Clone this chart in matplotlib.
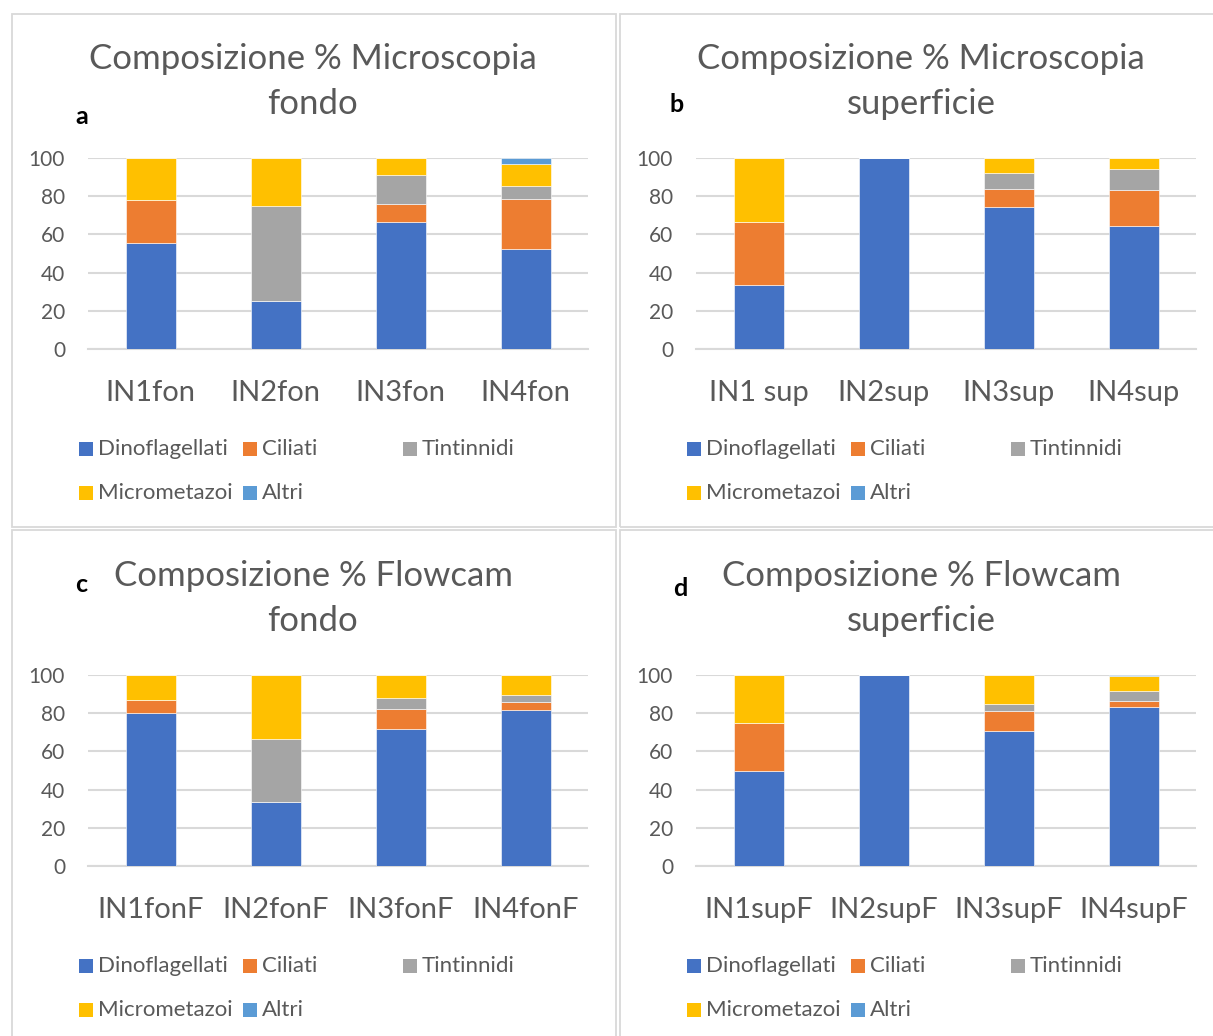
import matplotlib.pyplot as plt
from matplotlib.patches import Rectangle

plt.rcParams['font.family'] = ['Lato', 'DejaVu Sans']

W, H = 1213, 1036

series = ["Dinoflagellati", "Ciliati", "Tintinnidi", "Micrometazoi", "Altri"]
colors = ["#4472C4", "#ED7D31", "#A5A5A5", "#FFC000", "#5B9BD5"]

# a: microscopia, fondo
cats_a = ["IN1fon", "IN2fon", "IN3fon", "IN4fon"]
dino_a = [55.6, 25.0, 66.7, 52.3]
cil_a = [22.2, 0.0, 9.1, 26.0]
tint_a = [0.0, 50.0, 15.2, 7.0]
micro_a = [22.2, 25.0, 9.1, 11.7]
altri_a = [0.0, 0.0, 0.0, 3.0]

# b: microscopia, superficie
cats_b = ["IN1 sup", "IN2sup", "IN3sup", "IN4sup"]
dino_b = [33.3, 100.0, 74.1, 64.2]
cil_b = [33.3, 0.0, 9.6, 18.8]
tint_b = [0.0, 0.0, 8.3, 11.4]
micro_b = [33.4, 0.0, 8.0, 5.6]
altri_b = [0.0, 0.0, 0.0, 0.0]

# c: flowcam, fondo
cats_c = ["IN1fonF", "IN2fonF", "IN3fonF", "IN4fonF"]
dino_c = [80.0, 33.3, 71.6, 81.8]
cil_c = [6.7, 0.0, 10.5, 4.0]
tint_c = [0.0, 33.3, 6.1, 3.5]
micro_c = [13.3, 33.4, 11.8, 10.7]
altri_c = [0.0, 0.0, 0.0, 0.0]

# d: flowcam, superficie
cats_d = ["IN1supF", "IN2supF", "IN3supF", "IN4supF"]
dino_d = [50.0, 100.0, 70.5, 83.2]
cil_d = [25.0, 0.0, 10.6, 3.1]
tint_d = [0.0, 0.0, 3.6, 5.5]
micro_d = [25.0, 0.0, 15.3, 7.7]
altri_d = [0.0, 0.0, 0.0, 0.5]

panels = [
    ("a", "Composizione % Microscopia", "fondo", cats_a,
     [dino_a, cil_a, tint_a, micro_a, altri_a], 0, 0, (82, 116)),
    ("b", "Composizione % Microscopia", "superficie", cats_b,
     [dino_b, cil_b, tint_b, micro_b, altri_b], 608, 0, (677, 104)),
    ("c", "Composizione % Flowcam", "fondo", cats_c,
     [dino_c, cil_c, tint_c, micro_c, altri_c], 0, 517, (81, 584)),
    ("d", "Composizione % Flowcam", "superficie", cats_d,
     [dino_d, cil_d, tint_d, micro_d, altri_d], 608, 517, (680, 589)),
]

GRAY = "#595959"
GRID = "#D9D9D9"


def fx(x):
    return x / W


def fy(y):
    return 1 - y / H


fig = plt.figure(figsize=(W / 100, H / 100), dpi=100)

# chart frames
for x0, y0, x1, y1 in [(12, 14, 616, 527), (620, 14, 1260, 527),
                       (12, 530, 616, 1080), (620, 530, 1260, 1080)]:
    fig.add_artist(Rectangle((fx(x0), fy(y1)), fx(x1 - x0), (y1 - y0) / H,
                             transform=fig.transFigure, fill=False,
                             edgecolor=GRID, lw=1.3))

for letter, t1, t2, cats, vals, dx, dy, lpos in panels:
    left, right, top, bottom = 88 + dx, 588 + dx, 158 + dy, 349 + dy
    ax = fig.add_axes([fx(left), fy(bottom), (right - left) / W, (bottom - top) / H])
    x = range(len(cats))
    base = [0.0] * len(cats)
    for vs, c in zip(vals, colors):
        ax.bar(x, vs, 0.4, bottom=base, color=c, edgecolor="white",
               linewidth=0.4, zorder=3)
        base = [b + v for b, v in zip(base, vs)]
    ax.set_xlim(-0.5, len(cats) - 0.5)
    ax.set_ylim(0, 100)
    ax.set_yticks(range(0, 101, 20))
    ax.grid(axis="y", color=GRID, lw=1.5, zorder=0)
    for s in ["top", "right", "left"]:
        ax.spines[s].set_visible(False)
    ax.spines["bottom"].set_color(GRID)
    ax.spines["bottom"].set_linewidth(1.5)
    ax.tick_params(length=0)
    ax.tick_params(axis="y", labelsize=15, labelcolor=GRAY, pad=16.5)
    ax.tick_params(axis="x", labelsize=21, labelcolor=GRAY, pad=22)
    ax.set_xticks(list(x))
    ax.set_xticklabels(cats)

    # title and panel letter
    fig.text(fx(313 + dx), fy(59 + dy), t1, ha="center", va="center",
             fontsize=25, color=GRAY)
    fig.text(fx(313 + dx), fy(104 + dy), t2, ha="center", va="center",
             fontsize=25, color=GRAY)
    fig.text(fx(lpos[0]), fy(lpos[1]), letter, ha="center", va="center",
             fontsize=18, fontweight="bold", color="black")

    # legend, Excel-style row layout
    col_x = [79, 243, 403]
    row_y = [449, 493]
    for i, (name, c) in enumerate(zip(series, colors)):
        sx = col_x[i % 3] + dx
        sy = row_y[i // 3] + dy
        fig.add_artist(Rectangle((fx(sx), fy(sy + 7)), 14 / W, 14 / H,
                                 transform=fig.transFigure, color=c, lw=0))
        fig.text(fx(sx + 19), fy(sy), name, ha="left", va="center",
                 fontsize=16, color=GRAY)

fig.savefig("out.png", dpi=100)
